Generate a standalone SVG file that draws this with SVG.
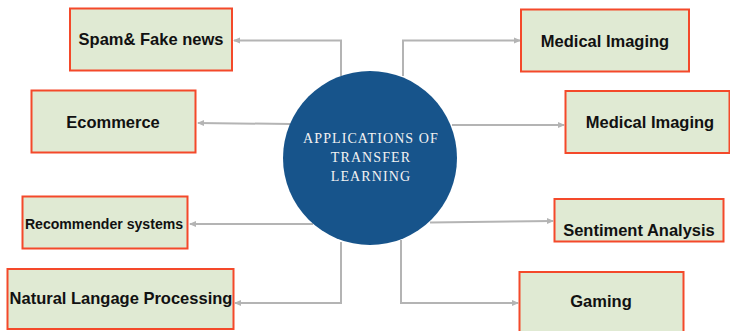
<svg xmlns="http://www.w3.org/2000/svg" width="730" height="331" viewBox="0 0 730 331">
<style>
.box{fill:#e0ead3;stroke:#f4492a;stroke-width:2}
.lbl{font-family:"Liberation Sans",Arial,sans-serif;font-weight:bold;font-size:16.5px;fill:#111;text-anchor:middle}
.con{fill:none;stroke:#b4b4b4;stroke-width:2}
.ctr{font-family:"Liberation Serif","DejaVu Serif",serif;font-size:14px;fill:#f2f2f2;text-anchor:middle;letter-spacing:1.1px}
</style>
<defs>
<marker id="arr" markerWidth="8" markerHeight="8" refX="6" refY="4" orient="auto" markerUnits="userSpaceOnUse">
<path d="M0,1 L7,4 L0,7 Z" fill="#b4b4b4"/>
</marker>
</defs>
<rect width="730" height="331" fill="#fff"/>
<g id="connectors">
<path class="con" d="M341,76 V40.5 H234" marker-end="url(#arr)"/>
<path class="con" d="M290,124 L198,123" marker-end="url(#arr)"/>
<path class="con" d="M403,76 V40.5 H520" marker-end="url(#arr)"/>
<path class="con" d="M452,125 H564" marker-end="url(#arr)"/>
<path class="con" d="M313,224 L190,224" marker-end="url(#arr)"/>
<path class="con" d="M341,242 V303 H235" marker-end="url(#arr)"/>
<path class="con" d="M430,222.5 L553,221" marker-end="url(#arr)"/>
<path class="con" d="M401,240 V303 H518" marker-end="url(#arr)"/>
</g>
<g id="center">
<circle cx="370" cy="158" r="87" fill="#17548b"/>
<text class="ctr" x="371" y="143">APPLICATIONS OF</text>
<text class="ctr" x="371" y="162">TRANSFER</text>
<text class="ctr" x="371" y="181">LEARNING</text>
</g>
<g id="spam">
<rect class="box" x="70" y="8.5" width="162" height="62"/>
<text class="lbl" x="151" y="45">Spam&amp; Fake news</text>
</g>
<g id="ecommerce">
<rect class="box" x="31.5" y="90.5" width="164" height="62"/>
<text class="lbl" x="113" y="128">Ecommerce</text>
</g>
<g id="recommender">
<rect class="box" x="22.5" y="196.5" width="165" height="52"/>
<text class="lbl" x="104" y="229" style="font-size:14.1px">Recommender systems</text>
</g>
<g id="nlp">
<rect class="box" x="7.5" y="269" width="226" height="60"/>
<text class="lbl" x="121" y="304">Natural Langage Processing</text>
</g>
<g id="medical1">
<rect class="box" x="521" y="9.5" width="168" height="62"/>
<text class="lbl" x="605" y="47">Medical Imaging</text>
</g>
<g id="medical2">
<rect class="box" x="565.5" y="91" width="164" height="62"/>
<text class="lbl" x="650" y="128">Medical Imaging</text>
</g>
<g id="sentiment">
<rect class="box" x="554.5" y="199" width="169" height="42.5"/>
<text class="lbl" x="639" y="236">Sentiment Analysis</text>
</g>
<g id="gaming">
<rect class="box" x="519.5" y="272" width="164" height="62"/>
<text class="lbl" x="601" y="307">Gaming</text>
</g>
</svg>
